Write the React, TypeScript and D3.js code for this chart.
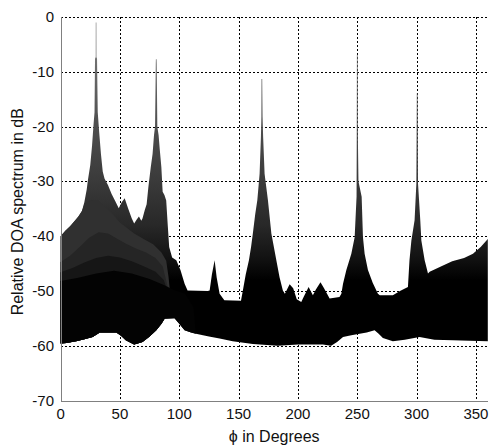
import React from "react";
import * as d3 from "d3";

// ---- Data (deg, dB) ----
const xTicks = [0, 50, 100, 150, 200, 250, 300, 350];
const yTicks = [0, -10, -20, -30, -40, -50, -60, -70];

// outer (upper) envelope of the spectrum surface
const envelopeTop: [number, number][] = [
  [0, -40], [4, -39], [8, -38.2], [12, -37.2], [15, -36.4], [18, -35.4], [20, -33.8],
  [22, -31.5], [23, -29.8], [25, -27], [26.5, -23.5], [27.8, -19.5], [28.6, -17.4],
  [29.0, -7.6], [29.6, -7.3], [29.6, -1], [30.2, -1], [30.2, -7.3], [30.7, -7.6],
  [31.3, -17.4], [32.5, -21], [34, -25], [35.5, -28.2], [37, -29.5], [40, -30.7],
  [43, -32.3], [46, -33.6], [49, -34.9], [51.5, -33.8], [54, -33.1], [57, -35],
  [60, -36.8], [62, -37.7], [64, -37], [66, -36.4], [68, -37.2], [69, -36.8],
  [71, -35.2], [72.5, -34.2], [74, -31], [76, -27.4], [77.5, -25], [78.7, -21.6],
  [79.6, -20], [80.2, -8.5], [80.3, -7.7], [80.9, -7.7], [81.0, -8.5], [81.5, -20],
  [82.6, -21.6], [83.5, -24], [84.9, -27.4], [86, -31.9], [87.5, -32.5], [89, -33.5],
  [90.3, -38], [91.5, -42], [94, -43.9], [97.5, -44.4], [101, -46.2], [104.5, -48.7],
  [107, -49.9], [124, -50], [125.6, -49.9], [127.5, -47], [129.8, -44.4], [131.5, -47.5],
  [134, -50.5], [138, -51.7], [152, -51.8], [153.6, -49.9], [156, -47], [158.7, -44.4],
  [160.5, -42], [162, -39.5], [164, -36], [165.8, -33.4], [167.7, -28.6], [168.8, -22],
  [169.2, -18.2], [169.3, -11.3], [169.9, -11.3], [170.2, -18.2], [170.7, -22],
  [171.9, -28.6], [174.7, -33.4], [177.6, -39.5], [181.8, -44.4], [184.5, -47.5],
  [187.3, -49.9], [189, -50.5], [193, -48.8], [196, -49.5], [199, -51.5], [202.8, -52],
  [205, -51], [209, -49.3], [212.6, -50.8], [215, -49.8], [219, -48.4], [222, -49.5],
  [226.7, -51.4], [235, -51.1], [236.6, -50.5], [238, -48.7], [240.8, -46.2],
  [245, -43.2], [247.8, -40.2], [249.4, -32.8], [249.6, -20], [249.7, -6.9],
  [250.3, -6.9], [250.4, -20], [251, -30], [253.7, -32.8], [254.8, -40.2],
  [256.2, -43.2], [259, -46.2], [263, -48.5], [267.4, -50.5], [269, -50.8], [280, -50.8],
  [286, -50], [292.7, -49.3], [294, -44.4], [295.6, -40.8], [298.3, -37.1],
  [299.8, -30.4], [300.2, -13.9], [300.8, -13.9], [301.2, -30.4], [303.1, -37.1],
  [304, -40.8], [306.8, -44.4], [309.6, -46.8], [311, -46.5], [320, -45.6],
  [330, -44.6], [340, -44], [347.5, -43.2], [354, -42], [360, -40.5],
];

// lower envelope of the spectrum surface
const envelopeBottom: [number, number][] = [
  [0, -59.6], [5, -59.5], [13, -59.2], [20, -58.8], [27, -58.4], [33, -57.6], [47, -57.6],
  [51, -58.2], [55, -59], [62, -59.8], [69, -59.3], [75, -58.3], [80.6, -57.2], [85, -56],
  [87.6, -55.1], [96, -55], [100, -56], [104.5, -57.2], [110, -57.6], [114, -57.8],
  [125, -58.3], [134, -58.7], [145, -59.2], [162, -59.7], [183, -60], [200, -59.8],
  [221, -59.8], [228, -60], [233, -59.3], [238, -58.4], [245, -58.1], [252, -57.8],
  [258, -57.6], [264.6, -57.2], [268, -57.8], [271.6, -58.6], [280, -59.2], [290, -58.9],
  [302.5, -58.4], [315, -58.9], [330.6, -59], [345, -59.1], [360, -59.2],
];

// inner snapshot layers (left part of the surface)
const layer2Top: [number, number][] = [
  [0, -40], [4, -39], [8, -38.2], [12, -37.2], [15, -36.4], [18, -35.4], [20, -34.2],
  [22, -33.8], [26, -33.4], [32, -33.5], [38, -34.8], [44, -36], [50, -37.5], [56, -38.5],
  [62, -39.5], [70, -40.5], [78, -41.5], [85, -43], [89, -44.5], [91, -47.5], [93, -52],
];
const layer3Top: [number, number][] = [
  [0, -44.7], [8, -43.6], [16, -42], [24, -40.3], [32, -39.3], [40, -39.5], [48, -40.5],
  [56, -41.5], [64, -42.3], [72, -43], [80, -44], [86, -45.5], [90, -49], [92, -52],
];
const layer4Top: [number, number][] = [
  [0, -46.6], [10, -45.8], [20, -44.8], [30, -44], [40, -43.6], [50, -43.9], [60, -44.6],
  [70, -45.5], [80, -46.5], [87, -48], [90, -50], [92, -52],
];
const layer5Top: [number, number][] = [
  [0, -48.2], [15, -47.6], [30, -46.8], [45, -46.3], [60, -46.8], [75, -47.8], [88, -49],
  [95, -49.8], [105, -50.5], [112, -53], [114, -57.8],
];

const layerColors = ["#303030", "#252525", "#161616", "#030303"];

const W = 494;
const H = 447;
const x = d3.scaleLinear().domain([0, 360]).range([60.6, 487.8]);
const y = d3.scaleLinear().domain([0, -70]).range([17, 400.5]);

const line = d3
  .line<[number, number]>()
  .x((d) => x(d[0]))
  .y((d) => y(d[1]));

function bandPath(top: [number, number][], lower: [number, number][]) {
  const xmin = top[0][0];
  const xmax = top[top.length - 1][0];
  const bottom = lower.filter((p) => p[0] >= xmin && p[0] <= xmax).slice().reverse();
  return (line([...top, ...bottom]) || "") + "Z";
}

const gradStops: [number, string][] = [
  [-48, "#000000"],
  [-44, "#121212"],
  [-38, "#282828"],
  [-30, "#3a3a3a"],
  [-20, "#4e4e4e"],
  [-10, "#686868"],
  [0, "#909090"],
];

export default function App() {
  const font = "'Liberation Sans', Arial, sans-serif";
  const left = x(0);
  const right = x(360);
  const top = y(0);
  const bottom = y(-70);
  const gy = (v: number) => Math.round(y(v)) + 0.5;
  const gx = (v: number) => Math.round(x(v)) + 0.5;
  return (
    <svg
      width={W}
      height={H}
      style={{ position: "absolute", left: 0, top: 0, display: "block", background: "#fff" }}
    >
      <defs>
        <linearGradient
          id="envGrad"
          gradientUnits="userSpaceOnUse"
          x1={0}
          x2={0}
          y1={y(-48)}
          y2={y(0)}
        >
          {gradStops.map(([v, c]) => (
            <stop key={v} offset={(v + 48) / 48} stopColor={c} />
          ))}
        </linearGradient>
      </defs>
      {/* grid */}
      <g stroke="#000" strokeWidth={1} strokeDasharray="2,2" shapeRendering="crispEdges">
        {yTicks
          .filter((v) => v !== -70)
          .map((v) => (
            <line key={"h" + v} x1={left} x2={right} y1={gy(v)} y2={gy(v)} />
          ))}
        {xTicks
          .filter((v) => v !== 0)
          .map((v) => (
            <line key={"v" + v} x1={gx(v)} x2={gx(v)} y1={top} y2={bottom} />
          ))}
      </g>
      {/* surface layers */}
      <path d={bandPath(envelopeTop, envelopeBottom)} fill="url(#envGrad)" />
      {[layer2Top, layer3Top, layer4Top, layer5Top].map((L, i) => (
        <path key={i} d={bandPath(L, envelopeBottom)} fill={layerColors[i]} />
      ))}
      {/* axes */}
      <g stroke="#808080" strokeWidth={1} shapeRendering="crispEdges">
        <line x1={gx(0)} x2={gx(0)} y1={top} y2={bottom} />
        <line x1={left} x2={right} y1={gy(-70)} y2={gy(-70)} />
      </g>
      {/* tick labels */}
      <g fontFamily={font} fontSize={15} fill="#111">
        {xTicks.map((v) => (
          <text key={"xt" + v} x={x(v)} y={419} textAnchor="middle">
            {v}
          </text>
        ))}
        {yTicks.map((v) => (
          <text key={"yt" + v} x={54} y={y(v) + 5} textAnchor="end">
            {v}
          </text>
        ))}
      </g>
      <text
        x={(left + right) / 2}
        y={442}
        textAnchor="middle"
        fontFamily={font}
        fontSize={16}
        fill="#111"
      >
        ϕ in Degrees
      </text>
      <text
        transform={`translate(23, ${(top + bottom) / 2 + 3}) rotate(-90)`}
        textAnchor="middle"
        fontFamily={font}
        fontSize={16}
        fill="#111"
      >
        Relative DOA spectrum in dB
      </text>
    </svg>
  );
}
